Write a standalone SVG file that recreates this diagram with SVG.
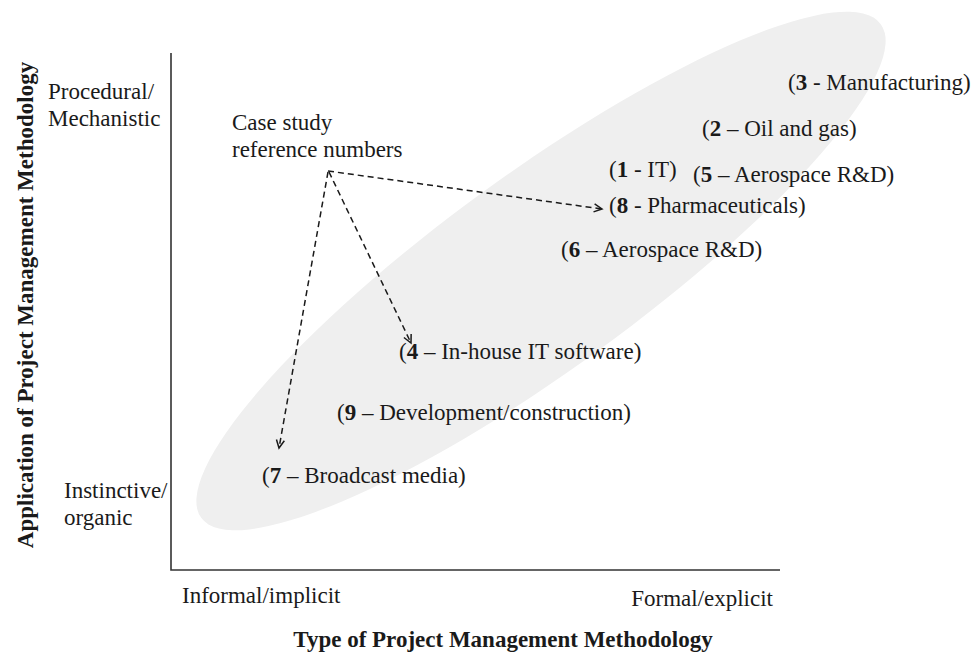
<svg xmlns="http://www.w3.org/2000/svg" width="973" height="654" viewBox="0 0 973 654">
<style>
text{font-family:"Liberation Serif","Times New Roman",serif;font-size:23px;fill:#1a1a1a}
.b{font-weight:bold}
.axis{stroke:#333;stroke-width:1.6;fill:none}
.dash{stroke:#1a1a1a;stroke-width:1.5;fill:none;stroke-dasharray:6 4}
</style>
<defs>
<marker id="arr" markerUnits="userSpaceOnUse" markerWidth="12" markerHeight="12" refX="9" refY="5" orient="auto">
<path d="M1,1 L9,5 L1,9" fill="none" stroke="#1a1a1a" stroke-width="1.5"/>
</marker>
</defs>
<rect width="973" height="654" fill="#ffffff"/>
<g id="region">
<ellipse cx="541" cy="271" rx="420" ry="98" transform="rotate(-36 541 271)" fill="#efefef"/>
</g>
<g id="axes">
<path class="axis" d="M171,53 L171,570 L780,570"/>
<text x="48" y="99">Procedural/</text>
<text x="48" y="126">Mechanistic</text>
<text x="64" y="498">Instinctive/</text>
<text x="64" y="525">organic</text>
<text x="182" y="603">Informal/implicit</text>
<text x="773" y="606" text-anchor="end">Formal/explicit</text>
<text class="b" x="503" y="647" text-anchor="middle">Type of Project Management Methodology</text>
<text class="b" x="0" y="0" text-anchor="middle" transform="translate(33 305) rotate(-90)">Application of Project Management Methodology</text>
</g>
<g id="legend">
<text x="232" y="130">Case study</text>
<text x="232" y="157">reference numbers</text>
</g>
<g id="case3"><text x="788" y="90">(<tspan class="b">3</tspan> - Manufacturing)</text></g>
<g id="case2"><text x="702" y="136">(<tspan class="b">2</tspan> – Oil and gas)</text></g>
<g id="case1"><text x="609" y="177">(<tspan class="b">1</tspan> - IT)</text></g>
<g id="case5"><text x="693" y="182">(<tspan class="b">5</tspan> – Aerospace R&amp;D)</text></g>
<g id="case8"><text x="609" y="213">(<tspan class="b">8</tspan> - Pharmaceuticals)</text></g>
<g id="case6"><text x="561" y="257">(<tspan class="b">6</tspan> – Aerospace R&amp;D)</text></g>
<g id="case4"><text x="399" y="359">(<tspan class="b">4</tspan> – In-house IT software)</text></g>
<g id="case9"><text x="337" y="420">(<tspan class="b">9</tspan> – Development/construction)</text></g>
<g id="case7"><text x="262" y="483">(<tspan class="b">7</tspan> – Broadcast media)</text></g>
<g id="connectors">
<path class="dash" d="M328,171 L602,209" marker-end="url(#arr)"/>
<path class="dash" d="M329,172 L411,343" marker-end="url(#arr)"/>
<path class="dash" d="M328,172 L279,448" marker-end="url(#arr)"/>
</g>
</svg>
